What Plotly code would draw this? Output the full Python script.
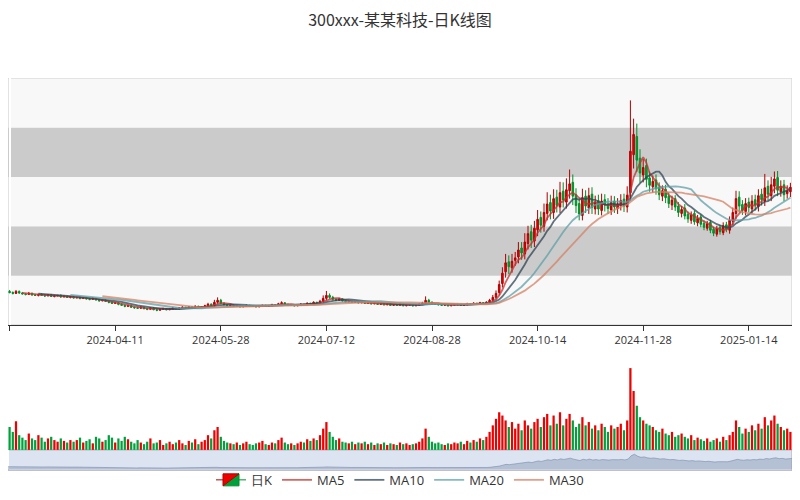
import plotly.graph_objects as go
import pandas as pd

closes = [6.6,6.4,6.8,6.5,6.3,6.2,6.4,6.1,6.0,6.2,
6.0,5.9,6.1,5.8,5.9,6.0,5.7,5.8,5.6,5.7,
5.5,5.6,5.4,5.5,5.3,5.2,5.4,5.1,4.9,5.0,
4.8,4.6,4.4,4.5,4.2,4.0,3.8,3.9,3.6,3.5,
3.4,3.6,3.3,3.2,3.4,3.1,3.0,3.2,3.3,3.1,
3.2,3.4,3.3,3.5,3.6,3.4,3.7,3.5,3.8,3.6,
3.7,3.9,4.2,4.0,4.6,5.0,4.4,4.1,3.9,4.0,
3.8,3.9,3.7,3.8,4.0,3.9,3.8,3.7,3.9,4.0,
3.8,3.9,4.1,4.0,4.3,4.5,4.2,4.0,4.1,3.9,
4.0,4.2,4.1,4.4,4.3,4.6,4.5,4.8,5.4,6.0,
5.6,5.2,5.0,5.3,4.9,4.7,4.8,4.6,4.7,4.5,
4.6,4.4,4.5,4.3,4.4,4.2,4.3,4.1,4.2,4.0,
4.1,4.0,4.2,3.9,4.0,4.1,3.9,4.0,4.2,4.4,
5.0,4.6,4.3,4.2,4.1,4.0,4.1,3.9,4.0,4.1,
4.2,4.0,4.1,4.3,4.2,4.4,4.3,4.5,4.4,4.6,
5.0,5.6,6.4,8.2,10.5,12.6,11.8,12.9,13.6,15.2,
14.6,16.8,18.5,17.2,19.6,21.4,20.2,22.8,24.5,23.1,
25.6,24.2,26.8,25.3,27.4,28.6,26.1,24.2,22.5,25.8,
24.1,26.2,23.8,24.9,23.5,25.1,24.3,23.6,24.8,23.9,
24.5,25.2,24.1,26.3,35.2,38.6,33.4,30.8,31.9,29.5,
28.3,29.1,27.6,26.4,27.2,25.8,24.6,25.3,23.9,22.8,
23.4,22.1,21.5,22.3,20.9,21.6,20.4,19.8,20.5,19.2,
18.6,19.5,18.9,20.1,19.4,21.2,22.8,25.6,24.1,23.2,
24.6,23.8,25.1,24.3,26.2,25.4,27.8,26.5,28.4,29.6,
27.3,28.1,26.4,27.2,27.9]

opens = [6.8,6.6,6.4,6.8,6.5,6.3,6.2,6.4,6.1,6.0,
6.2,6.0,5.9,6.1,5.8,5.9,6.0,5.7,5.8,5.6,
5.7,5.5,5.6,5.4,5.5,5.3,5.2,5.4,5.1,4.9,
5.0,4.8,4.6,4.4,4.5,4.2,4.0,3.8,3.9,3.6,
3.5,3.4,3.6,3.3,3.2,3.4,3.1,3.0,3.2,3.3,
3.1,3.2,3.4,3.3,3.5,3.6,3.4,3.7,3.5,3.8,
3.6,3.7,3.9,4.2,4.0,4.6,5.0,4.4,4.1,3.9,
4.0,3.8,3.9,3.7,3.8,4.0,3.9,3.8,3.7,3.9,
4.0,3.8,3.9,4.1,4.0,4.3,4.5,4.2,4.0,4.1,
3.9,4.0,4.2,4.1,4.4,4.3,4.6,4.5,4.8,5.4,
6.0,5.6,5.2,5.0,5.3,4.9,4.7,4.8,4.6,4.7,
4.5,4.6,4.4,4.5,4.3,4.4,4.2,4.3,4.1,4.2,
4.0,4.1,4.0,4.2,3.9,4.0,4.1,3.9,4.0,4.2,
4.4,5.0,4.6,4.3,4.2,4.1,4.0,4.1,3.9,4.0,
4.1,4.2,4.0,4.1,4.3,4.2,4.4,4.3,4.5,4.4,
4.6,5.0,5.6,6.6,8.4,10.8,12.8,11.6,13.1,13.8,
15.6,14.4,16.5,18.9,17.0,19.3,21.8,20.0,22.6,24.8,
22.8,25.9,23.9,27.1,24.9,27.2,28.9,26.4,24.6,22.2,
26.1,23.7,26.5,23.5,25.2,23.2,25.4,24.5,23.3,25.1,
23.6,24.2,25.5,23.9,26.8,34.5,38.2,33.8,30.4,32.3,
29.8,28.0,29.4,27.9,26.1,27.5,26.1,24.3,25.6,24.1,
22.6,23.7,22.4,21.2,22.6,20.7,21.9,20.6,19.6,20.8,
19.4,18.4,19.8,18.7,20.3,19.2,21.0,22.6,25.9,24.4,
23.0,24.9,23.5,25.4,24.0,26.5,25.1,28.1,26.2,28.1,
29.9,27.0,28.4,26.6,27.0]

upper_wick = [0.3,0.2,0.3,0.2,0.2,0.1,0.3,0.2,0.2,0.1,
0.2,0.2,0.1,0.2,0.2,0.1,0.2,0.2,0.1,0.2,
0.2,0.1,0.2,0.1,0.2,0.1,0.2,0.1,0.2,0.1,
0.2,0.1,0.2,0.1,0.1,0.2,0.1,0.1,0.2,0.1,
0.1,0.2,0.1,0.1,0.1,0.2,0.1,0.1,0.2,0.1,
0.1,0.2,0.1,0.1,0.2,0.1,0.1,0.1,0.2,0.1,
0.1,0.2,0.3,0.2,0.5,0.6,0.3,0.2,0.1,0.1,
0.1,0.1,0.1,0.1,0.2,0.1,0.1,0.1,0.1,0.1,
0.1,0.1,0.2,0.1,0.2,0.3,0.1,0.1,0.1,0.1,
0.1,0.2,0.1,0.2,0.1,0.2,0.1,0.3,0.6,0.9,
0.4,0.3,0.2,0.2,0.1,0.1,0.1,0.1,0.1,0.1,
0.1,0.1,0.1,0.1,0.1,0.1,0.1,0.1,0.1,0.1,
0.1,0.1,0.2,0.1,0.1,0.1,0.1,0.1,0.2,0.3,
0.8,0.3,0.2,0.1,0.1,0.1,0.1,0.1,0.1,0.1,
0.1,0.1,0.1,0.2,0.1,0.2,0.1,0.2,0.1,0.2,
0.3,0.5,0.6,0.8,1.2,1.8,1.3,1.5,1.2,1.6,
1.2,1.8,1.6,1.4,1.5,1.9,1.2,1.8,2.4,1.6,
1.9,1.5,2.2,1.8,2.3,2.9,1.6,1.3,1.1,1.8,
1.2,1.6,1.4,1.3,1.2,1.5,1.1,1.2,1.4,1.0,
1.2,1.3,1.1,1.8,10.3,3.2,2.6,1.8,1.7,1.4,
1.3,1.2,1.1,1.0,1.1,0.9,0.8,0.9,0.7,0.8,
0.7,0.8,0.6,0.7,0.6,0.7,0.5,0.6,0.6,0.5,
0.5,0.6,0.5,0.7,0.6,0.8,1.0,1.6,1.2,0.9,
1.1,0.9,1.2,1.0,1.3,1.1,2.8,1.2,1.6,1.5,
1.3,1.2,1.0,1.1,0.9]

lower_wick = [0.2,0.2,0.1,0.2,0.1,0.2,0.1,0.2,0.1,0.2,
0.1,0.2,0.1,0.1,0.2,0.1,0.2,0.1,0.1,0.2,
0.1,0.1,0.2,0.1,0.1,0.2,0.1,0.2,0.1,0.1,
0.1,0.2,0.1,0.1,0.2,0.1,0.2,0.1,0.1,0.2,
0.1,0.1,0.1,0.2,0.1,0.1,0.2,0.1,0.1,0.1,
0.1,0.1,0.1,0.2,0.1,0.1,0.1,0.2,0.1,0.1,
0.1,0.1,0.2,0.1,0.2,0.3,0.2,0.1,0.1,0.1,
0.1,0.1,0.1,0.1,0.1,0.1,0.1,0.1,0.1,0.1,
0.1,0.1,0.1,0.1,0.1,0.2,0.1,0.1,0.1,0.1,
0.1,0.1,0.1,0.1,0.1,0.1,0.1,0.2,0.2,0.4,
0.3,0.2,0.2,0.1,0.2,0.1,0.1,0.1,0.1,0.1,
0.1,0.1,0.1,0.1,0.1,0.1,0.1,0.1,0.1,0.1,
0.1,0.1,0.1,0.1,0.1,0.1,0.1,0.1,0.1,0.1,
0.3,0.2,0.1,0.1,0.1,0.1,0.1,0.1,0.1,0.1,
0.1,0.1,0.1,0.1,0.1,0.1,0.1,0.1,0.1,0.1,
0.2,0.3,0.4,0.6,0.8,1.2,1.5,1.0,1.1,1.3,
1.4,1.1,1.2,1.6,1.2,1.3,1.5,1.1,1.4,1.7,
1.3,1.4,1.2,1.5,1.3,1.6,1.8,1.5,1.3,1.0,
1.4,1.2,1.3,1.1,1.2,1.0,1.3,1.1,1.0,1.2,
1.1,1.0,1.2,1.1,1.6,2.8,2.4,2.0,1.5,1.6,
1.3,1.2,1.2,1.1,1.0,1.1,0.9,1.0,0.8,0.9,
0.8,0.7,0.8,0.7,0.6,0.7,0.6,0.6,0.5,0.6,
0.6,0.5,0.6,0.5,0.6,0.7,0.8,1.1,1.3,0.9,
0.8,1.0,0.9,1.1,1.0,1.2,1.0,1.3,1.1,1.4,
1.2,1.0,1.3,1.0,1.1]

volumes = [28,22,35,18,15,12,20,14,12,18,
15,10,14,16,12,10,14,11,9,12,
10,12,15,9,11,13,8,16,14,10,
12,18,15,9,14,11,16,13,10,8,
12,9,7,10,14,8,9,12,6,8,
10,7,9,12,8,6,11,9,13,7,
10,12,18,14,24,28,16,11,9,8,
7,9,6,8,10,7,6,8,9,11,
7,6,9,8,12,15,9,7,8,6,
8,10,9,13,11,14,12,18,26,34,
22,16,12,14,10,9,8,10,7,9,
8,10,7,9,6,8,7,9,6,8,
7,6,9,7,8,6,7,8,10,14,
26,16,10,8,9,7,6,8,7,9,
8,10,7,11,9,12,10,14,12,16,
22,30,38,46,42,36,28,34,26,32,
24,36,30,26,34,38,28,40,44,30,
42,32,46,30,38,44,36,28,32,40,
30,34,26,30,24,32,28,22,30,26,
28,32,24,36,100,72,54,40,36,32,
30,28,24,22,26,20,18,22,16,18,
20,16,14,18,12,15,13,11,14,10,
12,14,10,16,12,18,22,36,28,20,
26,22,30,24,32,26,40,30,36,42,
32,28,24,26,22]

dates = pd.bdate_range("2024-02-26", periods=len(closes)).strftime("%Y-%m-%d").tolist()
highs = [max(o, c) + u for o, c, u in zip(opens, closes, upper_wick)]
lows = [min(o, c) - l for o, c, l in zip(opens, closes, lower_wick)]
cs = pd.Series(closes)
ma = {n: cs.rolling(n).mean().tolist() for n in (5, 10, 20, 30)}
ma_colors = {5: "#c23531", 10: "#2f4554", 20: "#61a0a8", 30: "#d48265"}
up, down = "#ec0000", "#00a03c"
vol_colors = [up if c >= o else down for o, c in zip(opens, closes)]
idx = list(range(len(dates)))

fig = go.Figure()
fig.add_trace(go.Candlestick(x=idx, open=opens, high=highs, low=lows, close=closes, name="日K",
    increasing=dict(line=dict(color="#b00000", width=1), fillcolor=up),
    decreasing=dict(line=dict(color="#008F28", width=1), fillcolor=down),
    xaxis="x", yaxis="y", whiskerwidth=0))
for n in (5, 10, 20, 30):
    fig.add_trace(go.Scatter(x=idx, y=ma[n], mode="lines", name=f"MA{n}",
        line=dict(color=ma_colors[n], width=1.8), opacity=0.75, xaxis="x", yaxis="y"))
fig.add_trace(go.Bar(x=idx, y=volumes, marker=dict(color=vol_colors, line_width=0),
    showlegend=False, xaxis="x2", yaxis="y2"))
fig.add_trace(go.Scatter(x=idx, y=closes, mode="lines", fill="tozeroy",
    line=dict(color="rgba(120,140,170,0.6)", width=1), fillcolor="rgba(130,150,180,0.45)",
    showlegend=False, xaxis="x3", yaxis="y3"))

shapes = []
bands = [(0, 10, "#f8f8f8"), (10, 20, "#cbcbcb"), (20, 30, "#f8f8f8"), (30, 40, "#cbcbcb"), (40, 50, "#f8f8f8")]
for a, b, col in bands:
    shapes.append(dict(type="rect", xref="paper", yref="y", x0=0, x1=1, y0=a, y1=b,
                       fillcolor=col, line_width=0, layer="below"))
shapes.append(dict(type="rect", xref="paper", yref="y", x0=0, x1=1, y0=0, y1=50,
                   fillcolor="rgba(0,0,0,0)", line=dict(color="#ccc", width=1), layer="below"))
shapes.append(dict(type="rect", xref="paper", yref="paper", x0=0, x1=1, y0=0.045, y1=0.087,
                   fillcolor="rgba(180,195,225,0.45)", line=dict(color="#aab", width=1), layer="below"))

tickv = list(range(0, len(dates), 33))
fig.update_layout(
    width=784, height=484, margin=dict(l=0, r=0, t=0, b=0, autoexpand=False),
    paper_bgcolor="white", plot_bgcolor="white",
    title=dict(text="300xxx-某某科技-日K线图", x=0.5, y=0.985, yanchor="top", xanchor="center",
               font=dict(family="Noto Sans CJK SC", size=16, color="#333")),
    xaxis=dict(domain=[0, 1], range=[-0.5, len(dates) - 0.5], rangeslider=dict(visible=False),
               tickvals=tickv, ticktext=[dates[i] for i in tickv], showgrid=False,
               showline=True, linecolor="#333", ticks="outside", tickcolor="#333",
               tickfont=dict(size=11, color="#333"), anchor="y", automargin=False),
    yaxis=dict(domain=[0.345, 0.855], range=[0, 50], showgrid=False, showticklabels=False,
               zeroline=False, automargin=False),
    xaxis2=dict(domain=[0, 1], range=[-0.5, len(dates) - 0.5], showticklabels=False,
                showgrid=False, anchor="y2", automargin=False),
    yaxis2=dict(domain=[0.087, 0.256], range=[0, 100], showgrid=False, showticklabels=False,
                zeroline=False, automargin=False),
    xaxis3=dict(domain=[0, 1], range=[0, len(dates) - 1], showticklabels=False,
                showgrid=False, anchor="y3", automargin=False),
    yaxis3=dict(domain=[0.047, 0.087], range=[0, 50], showgrid=False, showticklabels=False,
                zeroline=False, automargin=False),
    bargap=0.3, shapes=shapes,
    legend=dict(orientation="h", x=0.5, xanchor="center", y=0.025, yanchor="middle",
                bgcolor="rgba(0,0,0,0)", font=dict(size=13, color="#333")),
)
fig.write_html("out.html")
